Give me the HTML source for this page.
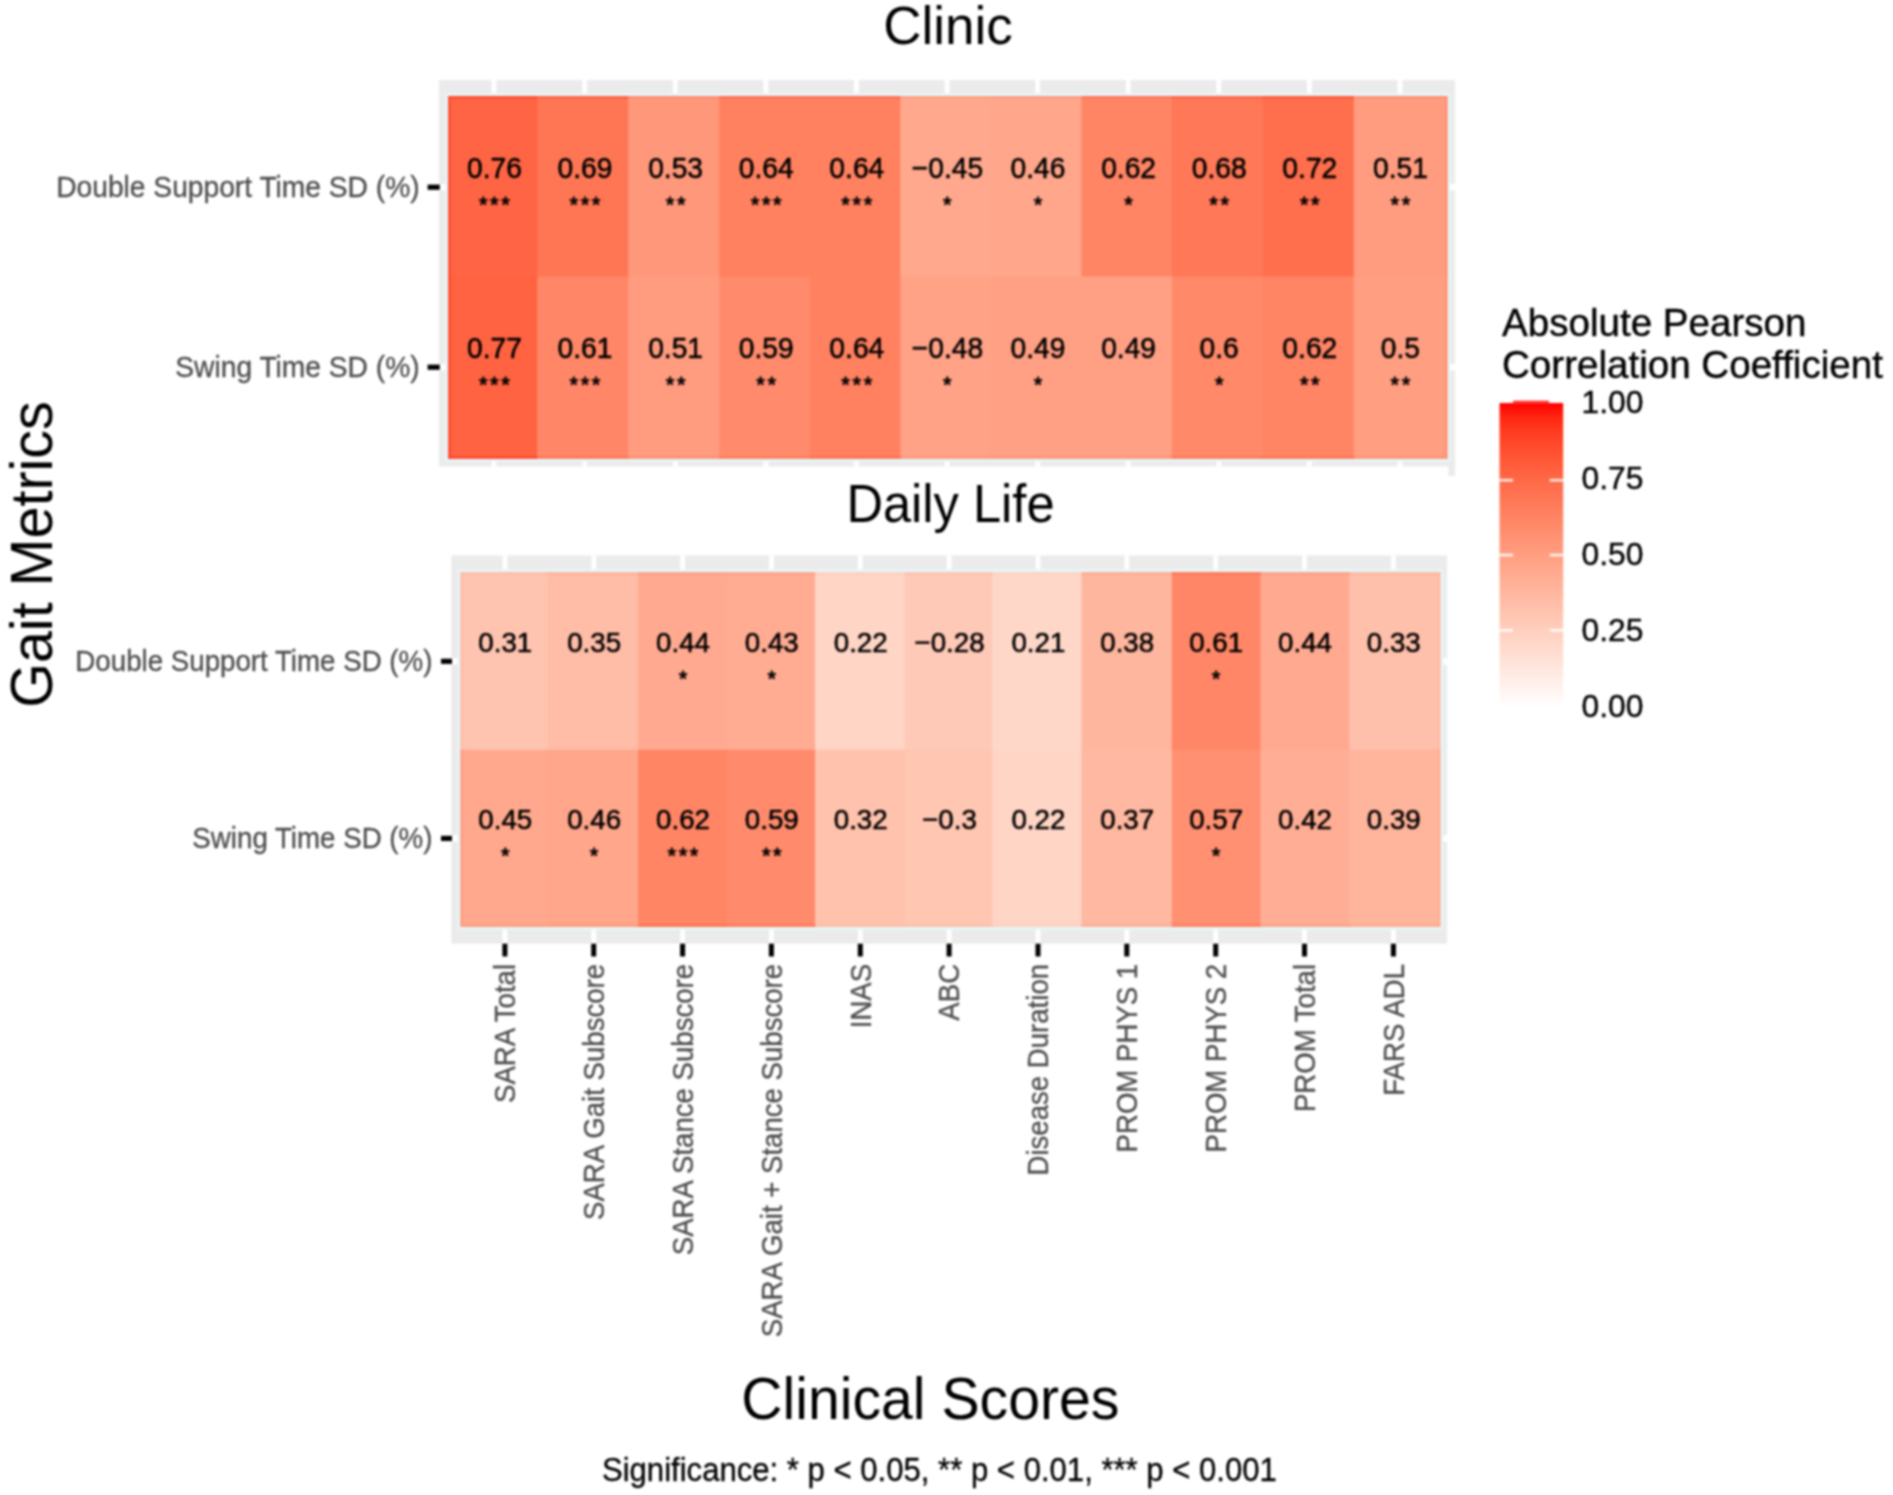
<!DOCTYPE html>
<html><head><meta charset="utf-8"><title>Gait metrics vs clinical scores</title>
<style>
html,body{margin:0;padding:0;background:#fff;}
body{width:1893px;height:1495px;overflow:hidden;}
svg{display:block;font-family:"Liberation Sans",Arial,sans-serif;filter:blur(0.9px);}
</style></head><body>
<svg width="1893" height="1495" viewBox="0 0 1893 1495">
<rect width="1893" height="1495" fill="#fff"/>
<rect x="439.0" y="80.0" width="1016.0" height="386.4" fill="#EBEBEB"/>
<rect x="1448.3" y="465.4" width="6.7" height="10.5" fill="#EBEBEB"/>
<rect x="491.6" y="80.0" width="4.8" height="386.4" fill="#fff"/>
<rect x="582.2" y="80.0" width="4.8" height="386.4" fill="#fff"/>
<rect x="672.8" y="80.0" width="4.8" height="386.4" fill="#fff"/>
<rect x="763.4" y="80.0" width="4.8" height="386.4" fill="#fff"/>
<rect x="854.0" y="80.0" width="4.8" height="386.4" fill="#fff"/>
<rect x="944.6" y="80.0" width="4.8" height="386.4" fill="#fff"/>
<rect x="1035.2" y="80.0" width="4.8" height="386.4" fill="#fff"/>
<rect x="1125.8" y="80.0" width="4.8" height="386.4" fill="#fff"/>
<rect x="1216.4" y="80.0" width="4.8" height="386.4" fill="#fff"/>
<rect x="1307.0" y="80.0" width="4.8" height="386.4" fill="#fff"/>
<rect x="1397.6" y="80.0" width="4.8" height="386.4" fill="#fff"/>
<rect x="439.0" y="184.0" width="1016.0" height="6.4" fill="#fff"/>
<rect x="439.0" y="364.0" width="1016.0" height="6.4" fill="#fff"/>
<rect x="445.3" y="93.0" width="1005.1" height="368.6" fill="#E6F6FA"/>
<rect x="448.3" y="96.0" width="90.4" height="182.1" fill="#FF6544"/>
<rect x="537.2" y="96.0" width="92.5" height="182.1" fill="#FF7654"/>
<rect x="628.2" y="96.0" width="92.5" height="182.1" fill="#FF987A"/>
<rect x="719.2" y="96.0" width="92.5" height="182.1" fill="#FF8160"/>
<rect x="810.2" y="96.0" width="91.6" height="182.1" fill="#FF8160"/>
<rect x="900.3" y="96.0" width="92.4" height="182.1" fill="#FFA88D"/>
<rect x="991.2" y="96.0" width="91.7" height="182.1" fill="#FFA68B"/>
<rect x="1081.4" y="96.0" width="91.9" height="182.1" fill="#FF8565"/>
<rect x="1171.8" y="96.0" width="92.5" height="182.1" fill="#FF7857"/>
<rect x="1262.8" y="96.0" width="92.5" height="182.1" fill="#FF6F4D"/>
<rect x="1353.8" y="96.0" width="93.6" height="182.1" fill="#FF9C7F"/>
<rect x="448.3" y="276.6" width="90.4" height="182.0" fill="#FF6341"/>
<rect x="537.2" y="276.6" width="92.5" height="182.0" fill="#FF8767"/>
<rect x="628.2" y="276.6" width="92.5" height="182.0" fill="#FF9C7F"/>
<rect x="719.2" y="276.6" width="92.5" height="182.0" fill="#FF8B6C"/>
<rect x="810.2" y="276.6" width="91.6" height="182.0" fill="#FF8160"/>
<rect x="900.3" y="276.6" width="92.4" height="182.0" fill="#FFA286"/>
<rect x="991.2" y="276.6" width="91.7" height="182.0" fill="#FFA084"/>
<rect x="1081.4" y="276.6" width="91.9" height="182.0" fill="#FFA084"/>
<rect x="1171.8" y="276.6" width="92.5" height="182.0" fill="#FF8969"/>
<rect x="1262.8" y="276.6" width="92.5" height="182.0" fill="#FF8565"/>
<rect x="1353.8" y="276.6" width="93.6" height="182.0" fill="#FF9E81"/>
<rect x="448.3" y="96.0" width="89.9" height="2.4" fill="#FF4B2C"/>
<rect x="448.3" y="456.2" width="89.9" height="2.4" fill="#FF4729"/>
<rect x="537.2" y="96.0" width="92.0" height="2.4" fill="#FF603F"/>
<rect x="537.2" y="456.2" width="92.0" height="2.4" fill="#FF7654"/>
<rect x="628.2" y="96.0" width="92.0" height="2.4" fill="#FF896A"/>
<rect x="628.2" y="456.2" width="92.0" height="2.4" fill="#FF8E6F"/>
<rect x="719.2" y="96.0" width="92.0" height="2.4" fill="#FF6E4C"/>
<rect x="719.2" y="456.2" width="92.0" height="2.4" fill="#FF7B5A"/>
<rect x="810.2" y="96.0" width="91.1" height="2.4" fill="#FF6E4C"/>
<rect x="810.2" y="456.2" width="91.1" height="2.4" fill="#FF6E4C"/>
<rect x="900.3" y="96.0" width="91.9" height="2.4" fill="#FF9C7F"/>
<rect x="900.3" y="456.2" width="91.9" height="2.4" fill="#FF9577"/>
<rect x="991.2" y="96.0" width="91.2" height="2.4" fill="#FF9A7D"/>
<rect x="991.2" y="456.2" width="91.2" height="2.4" fill="#FF9374"/>
<rect x="1081.4" y="96.0" width="91.4" height="2.4" fill="#FF7352"/>
<rect x="1081.4" y="456.2" width="91.4" height="2.4" fill="#FF9374"/>
<rect x="1171.8" y="96.0" width="92.0" height="2.4" fill="#FF6342"/>
<rect x="1171.8" y="456.2" width="92.0" height="2.4" fill="#FF7857"/>
<rect x="1262.8" y="96.0" width="92.0" height="2.4" fill="#FF5737"/>
<rect x="1262.8" y="456.2" width="92.0" height="2.4" fill="#FF7352"/>
<rect x="1353.8" y="96.0" width="93.6" height="2.4" fill="#FF8E6F"/>
<rect x="1353.8" y="456.2" width="93.6" height="2.4" fill="#FF9172"/>
<rect x="448.3" y="96.0" width="2.4" height="180.6" fill="#FF4B2C"/>
<rect x="1445.0" y="96.0" width="2.4" height="180.6" fill="#FF8E6F"/>
<rect x="448.3" y="276.6" width="2.4" height="182.0" fill="#FF4729"/>
<rect x="1445.0" y="276.6" width="2.4" height="182.0" fill="#FF9172"/>
<rect x="427.6" y="184.6" width="12.2" height="5.2"/>
<text transform="translate(419.6,196.8) scale(1,1.04)" text-anchor="end" font-size="28.2" fill="#4D4D4D" stroke="#4D4D4D" stroke-width="0.3" stroke-linejoin="round">Double Support Time SD (%)</text>
<text transform="translate(494.4,177.6) scale(1,1.03)" text-anchor="middle" font-size="28.2" stroke="#000" stroke-width="0.55" stroke-linejoin="round">0.76</text>
<text transform="translate(495.7,211.5)" text-anchor="middle" font-size="22" letter-spacing="2.6" stroke="#000" stroke-width="0.8" stroke-linejoin="round">***</text>
<text transform="translate(585.0,177.6) scale(1,1.03)" text-anchor="middle" font-size="28.2" stroke="#000" stroke-width="0.55" stroke-linejoin="round">0.69</text>
<text transform="translate(586.3,211.5)" text-anchor="middle" font-size="22" letter-spacing="2.6" stroke="#000" stroke-width="0.8" stroke-linejoin="round">***</text>
<text transform="translate(675.6,177.6) scale(1,1.03)" text-anchor="middle" font-size="28.2" stroke="#000" stroke-width="0.55" stroke-linejoin="round">0.53</text>
<text transform="translate(676.9,211.5)" text-anchor="middle" font-size="22" letter-spacing="2.6" stroke="#000" stroke-width="0.8" stroke-linejoin="round">**</text>
<text transform="translate(766.2,177.6) scale(1,1.03)" text-anchor="middle" font-size="28.2" stroke="#000" stroke-width="0.55" stroke-linejoin="round">0.64</text>
<text transform="translate(767.5,211.5)" text-anchor="middle" font-size="22" letter-spacing="2.6" stroke="#000" stroke-width="0.8" stroke-linejoin="round">***</text>
<text transform="translate(856.8,177.6) scale(1,1.03)" text-anchor="middle" font-size="28.2" stroke="#000" stroke-width="0.55" stroke-linejoin="round">0.64</text>
<text transform="translate(858.1,211.5)" text-anchor="middle" font-size="22" letter-spacing="2.6" stroke="#000" stroke-width="0.8" stroke-linejoin="round">***</text>
<text transform="translate(947.4,177.6) scale(1,1.03)" text-anchor="middle" font-size="28.2" stroke="#000" stroke-width="0.55" stroke-linejoin="round">−0.45</text>
<text transform="translate(948.7,211.5)" text-anchor="middle" font-size="22" letter-spacing="2.6" stroke="#000" stroke-width="0.8" stroke-linejoin="round">*</text>
<text transform="translate(1038.0,177.6) scale(1,1.03)" text-anchor="middle" font-size="28.2" stroke="#000" stroke-width="0.55" stroke-linejoin="round">0.46</text>
<text transform="translate(1039.3,211.5)" text-anchor="middle" font-size="22" letter-spacing="2.6" stroke="#000" stroke-width="0.8" stroke-linejoin="round">*</text>
<text transform="translate(1128.6,177.6) scale(1,1.03)" text-anchor="middle" font-size="28.2" stroke="#000" stroke-width="0.55" stroke-linejoin="round">0.62</text>
<text transform="translate(1129.9,211.5)" text-anchor="middle" font-size="22" letter-spacing="2.6" stroke="#000" stroke-width="0.8" stroke-linejoin="round">*</text>
<text transform="translate(1219.2,177.6) scale(1,1.03)" text-anchor="middle" font-size="28.2" stroke="#000" stroke-width="0.55" stroke-linejoin="round">0.68</text>
<text transform="translate(1220.5,211.5)" text-anchor="middle" font-size="22" letter-spacing="2.6" stroke="#000" stroke-width="0.8" stroke-linejoin="round">**</text>
<text transform="translate(1309.8,177.6) scale(1,1.03)" text-anchor="middle" font-size="28.2" stroke="#000" stroke-width="0.55" stroke-linejoin="round">0.72</text>
<text transform="translate(1311.1,211.5)" text-anchor="middle" font-size="22" letter-spacing="2.6" stroke="#000" stroke-width="0.8" stroke-linejoin="round">**</text>
<text transform="translate(1400.4,177.6) scale(1,1.03)" text-anchor="middle" font-size="28.2" stroke="#000" stroke-width="0.55" stroke-linejoin="round">0.51</text>
<text transform="translate(1401.7,211.5)" text-anchor="middle" font-size="22" letter-spacing="2.6" stroke="#000" stroke-width="0.8" stroke-linejoin="round">**</text>
<rect x="427.6" y="364.6" width="12.2" height="5.2"/>
<text transform="translate(419.6,376.8) scale(1,1.04)" text-anchor="end" font-size="28.2" fill="#4D4D4D" stroke="#4D4D4D" stroke-width="0.3" stroke-linejoin="round">Swing Time SD (%)</text>
<text transform="translate(494.4,357.6) scale(1,1.03)" text-anchor="middle" font-size="28.2" stroke="#000" stroke-width="0.55" stroke-linejoin="round">0.77</text>
<text transform="translate(495.7,391.5)" text-anchor="middle" font-size="22" letter-spacing="2.6" stroke="#000" stroke-width="0.8" stroke-linejoin="round">***</text>
<text transform="translate(585.0,357.6) scale(1,1.03)" text-anchor="middle" font-size="28.2" stroke="#000" stroke-width="0.55" stroke-linejoin="round">0.61</text>
<text transform="translate(586.3,391.5)" text-anchor="middle" font-size="22" letter-spacing="2.6" stroke="#000" stroke-width="0.8" stroke-linejoin="round">***</text>
<text transform="translate(675.6,357.6) scale(1,1.03)" text-anchor="middle" font-size="28.2" stroke="#000" stroke-width="0.55" stroke-linejoin="round">0.51</text>
<text transform="translate(676.9,391.5)" text-anchor="middle" font-size="22" letter-spacing="2.6" stroke="#000" stroke-width="0.8" stroke-linejoin="round">**</text>
<text transform="translate(766.2,357.6) scale(1,1.03)" text-anchor="middle" font-size="28.2" stroke="#000" stroke-width="0.55" stroke-linejoin="round">0.59</text>
<text transform="translate(767.5,391.5)" text-anchor="middle" font-size="22" letter-spacing="2.6" stroke="#000" stroke-width="0.8" stroke-linejoin="round">**</text>
<text transform="translate(856.8,357.6) scale(1,1.03)" text-anchor="middle" font-size="28.2" stroke="#000" stroke-width="0.55" stroke-linejoin="round">0.64</text>
<text transform="translate(858.1,391.5)" text-anchor="middle" font-size="22" letter-spacing="2.6" stroke="#000" stroke-width="0.8" stroke-linejoin="round">***</text>
<text transform="translate(947.4,357.6) scale(1,1.03)" text-anchor="middle" font-size="28.2" stroke="#000" stroke-width="0.55" stroke-linejoin="round">−0.48</text>
<text transform="translate(948.7,391.5)" text-anchor="middle" font-size="22" letter-spacing="2.6" stroke="#000" stroke-width="0.8" stroke-linejoin="round">*</text>
<text transform="translate(1038.0,357.6) scale(1,1.03)" text-anchor="middle" font-size="28.2" stroke="#000" stroke-width="0.55" stroke-linejoin="round">0.49</text>
<text transform="translate(1039.3,391.5)" text-anchor="middle" font-size="22" letter-spacing="2.6" stroke="#000" stroke-width="0.8" stroke-linejoin="round">*</text>
<text transform="translate(1128.6,357.6) scale(1,1.03)" text-anchor="middle" font-size="28.2" stroke="#000" stroke-width="0.55" stroke-linejoin="round">0.49</text>
<text transform="translate(1219.2,357.6) scale(1,1.03)" text-anchor="middle" font-size="28.2" stroke="#000" stroke-width="0.55" stroke-linejoin="round">0.6</text>
<text transform="translate(1220.5,391.5)" text-anchor="middle" font-size="22" letter-spacing="2.6" stroke="#000" stroke-width="0.8" stroke-linejoin="round">*</text>
<text transform="translate(1309.8,357.6) scale(1,1.03)" text-anchor="middle" font-size="28.2" stroke="#000" stroke-width="0.55" stroke-linejoin="round">0.62</text>
<text transform="translate(1311.1,391.5)" text-anchor="middle" font-size="22" letter-spacing="2.6" stroke="#000" stroke-width="0.8" stroke-linejoin="round">**</text>
<text transform="translate(1400.4,357.6) scale(1,1.03)" text-anchor="middle" font-size="28.2" stroke="#000" stroke-width="0.55" stroke-linejoin="round">0.5</text>
<text transform="translate(1401.7,391.5)" text-anchor="middle" font-size="22" letter-spacing="2.6" stroke="#000" stroke-width="0.8" stroke-linejoin="round">**</text>
<rect x="451.3" y="555.4" width="995.7" height="388.3" fill="#EBEBEB"/>
<rect x="502.5" y="555.4" width="4.8" height="388.3" fill="#fff"/>
<rect x="591.4" y="555.4" width="4.8" height="388.3" fill="#fff"/>
<rect x="680.2" y="555.4" width="4.8" height="388.3" fill="#fff"/>
<rect x="769.0" y="555.4" width="4.8" height="388.3" fill="#fff"/>
<rect x="857.9" y="555.4" width="4.8" height="388.3" fill="#fff"/>
<rect x="946.8" y="555.4" width="4.8" height="388.3" fill="#fff"/>
<rect x="1035.6" y="555.4" width="4.8" height="388.3" fill="#fff"/>
<rect x="1124.4" y="555.4" width="4.8" height="388.3" fill="#fff"/>
<rect x="1213.3" y="555.4" width="4.8" height="388.3" fill="#fff"/>
<rect x="1302.1" y="555.4" width="4.8" height="388.3" fill="#fff"/>
<rect x="1391.0" y="555.4" width="4.8" height="388.3" fill="#fff"/>
<rect x="451.3" y="658.1" width="995.7" height="6.4" fill="#fff"/>
<rect x="451.3" y="835.2" width="995.7" height="6.4" fill="#fff"/>
<rect x="457.5" y="569.3" width="985.8" height="360.5" fill="#E6F6FA"/>
<rect x="460.5" y="572.3" width="88.8" height="179.0" fill="#FFC4B0"/>
<rect x="547.8" y="572.3" width="91.9" height="179.0" fill="#FFBCA6"/>
<rect x="638.2" y="572.3" width="90.3" height="179.0" fill="#FFAA90"/>
<rect x="727.0" y="572.3" width="89.6" height="179.0" fill="#FFAC92"/>
<rect x="815.1" y="572.3" width="91.1" height="179.0" fill="#FFD5C6"/>
<rect x="904.7" y="572.3" width="89.2" height="179.0" fill="#FFC9B7"/>
<rect x="992.4" y="572.3" width="90.5" height="179.0" fill="#FFD7C9"/>
<rect x="1081.4" y="572.3" width="91.9" height="179.0" fill="#FFB69E"/>
<rect x="1171.8" y="572.3" width="90.2" height="179.0" fill="#FF8767"/>
<rect x="1260.5" y="572.3" width="90.3" height="179.0" fill="#FFAA90"/>
<rect x="1349.3" y="572.3" width="91.0" height="179.0" fill="#FFC0AB"/>
<rect x="460.5" y="749.8" width="88.8" height="177.0" fill="#FFA88D"/>
<rect x="547.8" y="749.8" width="91.9" height="177.0" fill="#FFA68B"/>
<rect x="638.2" y="749.8" width="90.3" height="177.0" fill="#FF8565"/>
<rect x="727.0" y="749.8" width="89.6" height="177.0" fill="#FF8B6C"/>
<rect x="815.1" y="749.8" width="91.1" height="177.0" fill="#FFC2AD"/>
<rect x="904.7" y="749.8" width="89.2" height="177.0" fill="#FFC6B2"/>
<rect x="992.4" y="749.8" width="90.5" height="177.0" fill="#FFD5C6"/>
<rect x="1081.4" y="749.8" width="91.9" height="177.0" fill="#FFB8A1"/>
<rect x="1171.8" y="749.8" width="90.2" height="177.0" fill="#FF9071"/>
<rect x="1260.5" y="749.8" width="90.3" height="177.0" fill="#FFAE95"/>
<rect x="1349.3" y="749.8" width="91.0" height="177.0" fill="#FFB49C"/>
<rect x="460.5" y="572.3" width="88.3" height="2.4" fill="#FFBCA6"/>
<rect x="460.5" y="924.4" width="88.3" height="2.4" fill="#FF9C7F"/>
<rect x="547.8" y="572.3" width="91.4" height="2.4" fill="#FFB39B"/>
<rect x="547.8" y="924.4" width="91.4" height="2.4" fill="#FF9A7D"/>
<rect x="638.2" y="572.3" width="89.8" height="2.4" fill="#FF9E82"/>
<rect x="638.2" y="924.4" width="89.8" height="2.4" fill="#FF7352"/>
<rect x="727.0" y="572.3" width="89.1" height="2.4" fill="#FFA185"/>
<rect x="727.0" y="924.4" width="89.1" height="2.4" fill="#FF7B5A"/>
<rect x="815.1" y="572.3" width="90.6" height="2.4" fill="#FFCFBF"/>
<rect x="815.1" y="924.4" width="90.6" height="2.4" fill="#FFB9A3"/>
<rect x="904.7" y="572.3" width="88.7" height="2.4" fill="#FFC2AE"/>
<rect x="904.7" y="924.4" width="88.7" height="2.4" fill="#FFBEA8"/>
<rect x="992.4" y="572.3" width="90.0" height="2.4" fill="#FFD2C2"/>
<rect x="992.4" y="924.4" width="90.0" height="2.4" fill="#FFCFBF"/>
<rect x="1081.4" y="572.3" width="91.4" height="2.4" fill="#FFAC92"/>
<rect x="1081.4" y="924.4" width="91.4" height="2.4" fill="#FFAE95"/>
<rect x="1171.8" y="572.3" width="89.7" height="2.4" fill="#FF7654"/>
<rect x="1171.8" y="924.4" width="89.7" height="2.4" fill="#FF805F"/>
<rect x="1260.5" y="572.3" width="89.8" height="2.4" fill="#FF9E82"/>
<rect x="1260.5" y="924.4" width="89.8" height="2.4" fill="#FFA387"/>
<rect x="1349.3" y="572.3" width="91.0" height="2.4" fill="#FFB7A0"/>
<rect x="1349.3" y="924.4" width="91.0" height="2.4" fill="#FFAA90"/>
<rect x="460.5" y="572.3" width="2.4" height="177.5" fill="#FFBCA6"/>
<rect x="1437.9" y="572.3" width="2.4" height="177.5" fill="#FFB7A0"/>
<rect x="460.5" y="749.8" width="2.4" height="177.0" fill="#FF9C7F"/>
<rect x="1437.9" y="749.8" width="2.4" height="177.0" fill="#FFAA90"/>
<rect x="441.0" y="658.7" width="11.0" height="5.2"/>
<text transform="translate(432.4,671.3) scale(1,1.04)" text-anchor="end" font-size="27.7" fill="#4D4D4D" stroke="#4D4D4D" stroke-width="0.3" stroke-linejoin="round">Double Support Time SD (%)</text>
<text transform="translate(505.3,652.1) scale(1,1.03)" text-anchor="middle" font-size="27.7" stroke="#000" stroke-width="0.55" stroke-linejoin="round">0.31</text>
<text transform="translate(594.1,652.1) scale(1,1.03)" text-anchor="middle" font-size="27.7" stroke="#000" stroke-width="0.55" stroke-linejoin="round">0.35</text>
<text transform="translate(683.0,652.1) scale(1,1.03)" text-anchor="middle" font-size="27.7" stroke="#000" stroke-width="0.55" stroke-linejoin="round">0.44</text>
<text transform="translate(684.3,685.6)" text-anchor="middle" font-size="22" letter-spacing="2.6" stroke="#000" stroke-width="0.8" stroke-linejoin="round">*</text>
<text transform="translate(771.8,652.1) scale(1,1.03)" text-anchor="middle" font-size="27.7" stroke="#000" stroke-width="0.55" stroke-linejoin="round">0.43</text>
<text transform="translate(773.1,685.6)" text-anchor="middle" font-size="22" letter-spacing="2.6" stroke="#000" stroke-width="0.8" stroke-linejoin="round">*</text>
<text transform="translate(860.7,652.1) scale(1,1.03)" text-anchor="middle" font-size="27.7" stroke="#000" stroke-width="0.55" stroke-linejoin="round">0.22</text>
<text transform="translate(949.5,652.1) scale(1,1.03)" text-anchor="middle" font-size="27.7" stroke="#000" stroke-width="0.55" stroke-linejoin="round">−0.28</text>
<text transform="translate(1038.4,652.1) scale(1,1.03)" text-anchor="middle" font-size="27.7" stroke="#000" stroke-width="0.55" stroke-linejoin="round">0.21</text>
<text transform="translate(1127.2,652.1) scale(1,1.03)" text-anchor="middle" font-size="27.7" stroke="#000" stroke-width="0.55" stroke-linejoin="round">0.38</text>
<text transform="translate(1216.1,652.1) scale(1,1.03)" text-anchor="middle" font-size="27.7" stroke="#000" stroke-width="0.55" stroke-linejoin="round">0.61</text>
<text transform="translate(1217.4,685.6)" text-anchor="middle" font-size="22" letter-spacing="2.6" stroke="#000" stroke-width="0.8" stroke-linejoin="round">*</text>
<text transform="translate(1305.0,652.1) scale(1,1.03)" text-anchor="middle" font-size="27.7" stroke="#000" stroke-width="0.55" stroke-linejoin="round">0.44</text>
<text transform="translate(1393.8,652.1) scale(1,1.03)" text-anchor="middle" font-size="27.7" stroke="#000" stroke-width="0.55" stroke-linejoin="round">0.33</text>
<rect x="441.0" y="835.8" width="11.0" height="5.2"/>
<text transform="translate(432.4,848.4) scale(1,1.04)" text-anchor="end" font-size="27.7" fill="#4D4D4D" stroke="#4D4D4D" stroke-width="0.3" stroke-linejoin="round">Swing Time SD (%)</text>
<text transform="translate(505.3,829.2) scale(1,1.03)" text-anchor="middle" font-size="27.7" stroke="#000" stroke-width="0.55" stroke-linejoin="round">0.45</text>
<text transform="translate(506.6,862.7)" text-anchor="middle" font-size="22" letter-spacing="2.6" stroke="#000" stroke-width="0.8" stroke-linejoin="round">*</text>
<text transform="translate(594.1,829.2) scale(1,1.03)" text-anchor="middle" font-size="27.7" stroke="#000" stroke-width="0.55" stroke-linejoin="round">0.46</text>
<text transform="translate(595.4,862.7)" text-anchor="middle" font-size="22" letter-spacing="2.6" stroke="#000" stroke-width="0.8" stroke-linejoin="round">*</text>
<text transform="translate(683.0,829.2) scale(1,1.03)" text-anchor="middle" font-size="27.7" stroke="#000" stroke-width="0.55" stroke-linejoin="round">0.62</text>
<text transform="translate(684.3,862.7)" text-anchor="middle" font-size="22" letter-spacing="2.6" stroke="#000" stroke-width="0.8" stroke-linejoin="round">***</text>
<text transform="translate(771.8,829.2) scale(1,1.03)" text-anchor="middle" font-size="27.7" stroke="#000" stroke-width="0.55" stroke-linejoin="round">0.59</text>
<text transform="translate(773.1,862.7)" text-anchor="middle" font-size="22" letter-spacing="2.6" stroke="#000" stroke-width="0.8" stroke-linejoin="round">**</text>
<text transform="translate(860.7,829.2) scale(1,1.03)" text-anchor="middle" font-size="27.7" stroke="#000" stroke-width="0.55" stroke-linejoin="round">0.32</text>
<text transform="translate(949.5,829.2) scale(1,1.03)" text-anchor="middle" font-size="27.7" stroke="#000" stroke-width="0.55" stroke-linejoin="round">−0.3</text>
<text transform="translate(1038.4,829.2) scale(1,1.03)" text-anchor="middle" font-size="27.7" stroke="#000" stroke-width="0.55" stroke-linejoin="round">0.22</text>
<text transform="translate(1127.2,829.2) scale(1,1.03)" text-anchor="middle" font-size="27.7" stroke="#000" stroke-width="0.55" stroke-linejoin="round">0.37</text>
<text transform="translate(1216.1,829.2) scale(1,1.03)" text-anchor="middle" font-size="27.7" stroke="#000" stroke-width="0.55" stroke-linejoin="round">0.57</text>
<text transform="translate(1217.4,862.7)" text-anchor="middle" font-size="22" letter-spacing="2.6" stroke="#000" stroke-width="0.8" stroke-linejoin="round">*</text>
<text transform="translate(1305.0,829.2) scale(1,1.03)" text-anchor="middle" font-size="27.7" stroke="#000" stroke-width="0.55" stroke-linejoin="round">0.42</text>
<text transform="translate(1393.8,829.2) scale(1,1.03)" text-anchor="middle" font-size="27.7" stroke="#000" stroke-width="0.55" stroke-linejoin="round">0.39</text>
<rect x="502.4" y="943.7" width="5.0" height="12.8"/>
<text transform="translate(515.1,963.9) rotate(-90) scale(1,1.04)" text-anchor="end" font-size="27.6" fill="#4D4D4D" stroke="#4D4D4D" stroke-width="0.3" stroke-linejoin="round">SARA Total</text>
<rect x="591.2" y="943.7" width="5.0" height="12.8"/>
<text transform="translate(604.0,963.9) rotate(-90) scale(1,1.04)" text-anchor="end" font-size="27.6" fill="#4D4D4D" stroke="#4D4D4D" stroke-width="0.3" stroke-linejoin="round">SARA Gait Subscore</text>
<rect x="680.1" y="943.7" width="5.0" height="12.8"/>
<text transform="translate(692.8,963.9) rotate(-90) scale(1,1.04)" text-anchor="end" font-size="27.6" fill="#4D4D4D" stroke="#4D4D4D" stroke-width="0.3" stroke-linejoin="round">SARA Stance Subscore</text>
<rect x="768.9" y="943.7" width="5.0" height="12.8"/>
<text transform="translate(781.6,963.9) rotate(-90) scale(1,1.04)" text-anchor="end" font-size="27.6" fill="#4D4D4D" stroke="#4D4D4D" stroke-width="0.3" stroke-linejoin="round">SARA Gait + Stance Subscore</text>
<rect x="857.8" y="943.7" width="5.0" height="12.8"/>
<text transform="translate(870.5,963.9) rotate(-90) scale(1,1.04)" text-anchor="end" font-size="27.6" fill="#4D4D4D" stroke="#4D4D4D" stroke-width="0.3" stroke-linejoin="round">INAS</text>
<rect x="946.6" y="943.7" width="5.0" height="12.8"/>
<text transform="translate(959.4,963.9) rotate(-90) scale(1,1.04)" text-anchor="end" font-size="27.6" fill="#4D4D4D" stroke="#4D4D4D" stroke-width="0.3" stroke-linejoin="round">ABC</text>
<rect x="1035.5" y="943.7" width="5.0" height="12.8"/>
<text transform="translate(1048.2,963.9) rotate(-90) scale(1,1.04)" text-anchor="end" font-size="27.6" fill="#4D4D4D" stroke="#4D4D4D" stroke-width="0.3" stroke-linejoin="round">Disease Duration</text>
<rect x="1124.3" y="943.7" width="5.0" height="12.8"/>
<text transform="translate(1137.0,963.9) rotate(-90) scale(1,1.04)" text-anchor="end" font-size="27.6" fill="#4D4D4D" stroke="#4D4D4D" stroke-width="0.3" stroke-linejoin="round">PROM PHYS 1</text>
<rect x="1213.2" y="943.7" width="5.0" height="12.8"/>
<text transform="translate(1225.9,963.9) rotate(-90) scale(1,1.04)" text-anchor="end" font-size="27.6" fill="#4D4D4D" stroke="#4D4D4D" stroke-width="0.3" stroke-linejoin="round">PROM PHYS 2</text>
<rect x="1302.0" y="943.7" width="5.0" height="12.8"/>
<text transform="translate(1314.8,963.9) rotate(-90) scale(1,1.04)" text-anchor="end" font-size="27.6" fill="#4D4D4D" stroke="#4D4D4D" stroke-width="0.3" stroke-linejoin="round">PROM Total</text>
<rect x="1390.9" y="943.7" width="5.0" height="12.8"/>
<text transform="translate(1403.6,963.9) rotate(-90) scale(1,1.04)" text-anchor="end" font-size="27.6" fill="#4D4D4D" stroke="#4D4D4D" stroke-width="0.3" stroke-linejoin="round">FARS ADL</text>
<text transform="translate(948.0,44.2) scale(1,1.02)" text-anchor="middle" font-size="53">Clinic</text>
<text transform="translate(950.5,521.9) scale(0.955,1.02)" text-anchor="middle" font-size="53">Daily Life</text>
<text transform="translate(51.5,554.5) rotate(-90) scale(1,1.04)" text-anchor="middle" font-size="57.5">Gait Metrics</text>
<text transform="translate(930.3,1419.0) scale(1,1.02)" text-anchor="middle" font-size="57.2">Clinical Scores</text>
<text transform="translate(939.4,1481.0) scale(1,1.04)" text-anchor="middle" font-size="31.1" stroke="#000" stroke-width="0.3" stroke-linejoin="round">Significance: * p &lt; 0.05, ** p &lt; 0.01, *** p &lt; 0.001</text>
<text transform="translate(1502.0,336.2) scale(1.037,1.04)" font-size="37.2" stroke="#000" stroke-width="0.4" stroke-linejoin="round">Absolute Pearson</text>
<text transform="translate(1502.0,377.5) scale(1.037,1.04)" font-size="37.2" stroke="#000" stroke-width="0.4" stroke-linejoin="round">Correlation Coefficient</text>
<defs><linearGradient id="lg" x1="0" y1="0" x2="0" y2="1"><stop offset="0.00" stop-color="#FF0000"/><stop offset="0.05" stop-color="#FF2913"/><stop offset="0.10" stop-color="#FF3E22"/><stop offset="0.15" stop-color="#FF4D2E"/><stop offset="0.20" stop-color="#FF5B3A"/><stop offset="0.25" stop-color="#FF6846"/><stop offset="0.30" stop-color="#FF7352"/><stop offset="0.35" stop-color="#FF7E5E"/><stop offset="0.40" stop-color="#FF8969"/><stop offset="0.45" stop-color="#FF9475"/><stop offset="0.50" stop-color="#FF9E81"/><stop offset="0.55" stop-color="#FFA88D"/><stop offset="0.60" stop-color="#FFB299"/><stop offset="0.65" stop-color="#FFBCA6"/><stop offset="0.70" stop-color="#FFC6B2"/><stop offset="0.75" stop-color="#FFCFBF"/><stop offset="0.80" stop-color="#FFD9CB"/><stop offset="0.85" stop-color="#FFE2D8"/><stop offset="0.90" stop-color="#FFECE5"/><stop offset="0.95" stop-color="#FFF5F2"/><stop offset="1.00" stop-color="#FFFFFF"/></linearGradient></defs>
<rect x="1499.5" y="403" width="63.7" height="304" fill="url(#lg)"/>
<rect x="1513" y="400.6" width="36" height="3" fill="#FF3A3A"/>
<text transform="translate(1581.6,413.3) scale(1.025,1.03)" font-size="31" stroke="#000" stroke-width="0.4" stroke-linejoin="round">1.00</text>
<rect x="1499.5" y="478.9" width="13.5" height="2.6" fill="#fff" opacity="0.85"/>
<rect x="1549.7" y="478.9" width="13.5" height="2.6" fill="#fff" opacity="0.85"/>
<text transform="translate(1581.6,489.3) scale(1.025,1.03)" font-size="31" stroke="#000" stroke-width="0.4" stroke-linejoin="round">0.75</text>
<rect x="1499.5" y="553.7" width="13.5" height="2.6" fill="#fff" opacity="0.85"/>
<rect x="1549.7" y="553.7" width="13.5" height="2.6" fill="#fff" opacity="0.85"/>
<text transform="translate(1581.6,565.3) scale(1.025,1.03)" font-size="31" stroke="#000" stroke-width="0.4" stroke-linejoin="round">0.50</text>
<rect x="1499.5" y="629.0" width="13.5" height="2.6" fill="#fff" opacity="0.85"/>
<rect x="1549.7" y="629.0" width="13.5" height="2.6" fill="#fff" opacity="0.85"/>
<text transform="translate(1581.6,641.3) scale(1.025,1.03)" font-size="31" stroke="#000" stroke-width="0.4" stroke-linejoin="round">0.25</text>
<text transform="translate(1581.6,717.3) scale(1.025,1.03)" font-size="31" stroke="#000" stroke-width="0.4" stroke-linejoin="round">0.00</text>
</svg>
</body></html>
